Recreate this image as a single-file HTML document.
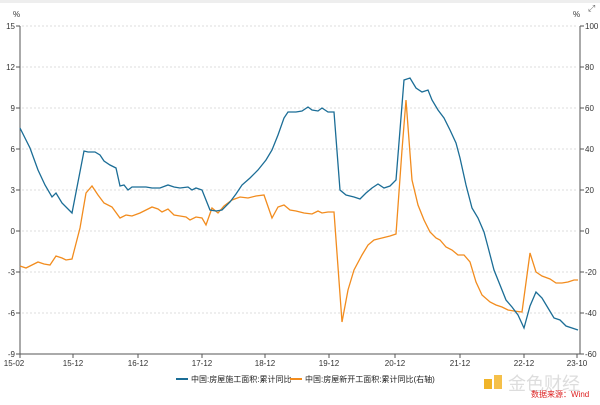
<!DOCTYPE html>
<html><head><meta charset="utf-8"><style>
body{margin:0;background:#fff;font-family:"Liberation Sans","Noto Sans CJK SC",sans-serif}
</style></head><body>
<svg width="600" height="400" xmlns="http://www.w3.org/2000/svg" font-family="Liberation Sans, Noto Sans CJK SC, sans-serif">
<rect width="600" height="400" fill="#fff"/>
<rect width="600" height="3" fill="#eee"/>
<g stroke="#ddd" stroke-dasharray="2,2" stroke-width="1">
<line x1="22" x2="578" y1="26" y2="26"/><line x1="22" x2="578" y1="67" y2="67"/><line x1="22" x2="578" y1="108" y2="108"/><line x1="22" x2="578" y1="149" y2="149"/><line x1="22" x2="578" y1="190" y2="190"/><line x1="22" x2="578" y1="231" y2="231"/><line x1="22" x2="578" y1="272" y2="272"/><line x1="22" x2="578" y1="313" y2="313"/>
</g>
<g stroke="#555" stroke-width="1" fill="none">
<line x1="20" y1="26" x2="20" y2="354"/><line x1="580" y1="26" x2="580" y2="354"/><line x1="20" y1="354" x2="580" y2="354"/>
<path d="M16,26h4M16,67h4M16,108h4M16,149h4M16,190h4M16,231h4M16,272h4M16,313h4M16,354h4M580,26h4M580,67h4M580,108h4M580,149h4M580,190h4M580,231h4M580,272h4M580,313h4M580,354h4M20,354v4M73,354v4M138,354v4M202,354v4M265,354v4M329,354v4M395,354v4M460,354v4M524,354v4M577,354v4"/>
</g>
<g font-size="8" fill="#333">
<text x="13" y="17">%</text><text x="573" y="17">%</text>
<g text-anchor="end"><text x="15" y="29">15</text><text x="15" y="70">12</text><text x="15" y="111">9</text><text x="15" y="152">6</text><text x="15" y="193">3</text><text x="15" y="234">0</text><text x="15" y="275">-3</text><text x="15" y="316">-6</text><text x="15" y="357">-9</text></g>
<g><text x="585" y="29">100</text><text x="585" y="70">80</text><text x="585" y="111">60</text><text x="585" y="152">40</text><text x="585" y="193">20</text><text x="585" y="234">0</text><text x="585" y="275">-20</text><text x="585" y="316">-40</text><text x="585" y="357">-60</text></g>
<g text-anchor="middle"><text x="14" y="366">15-02</text><text x="73" y="366">15-12</text><text x="138" y="366">16-12</text><text x="202" y="366">17-12</text><text x="265" y="366">18-12</text><text x="329" y="366">19-12</text><text x="395" y="366">20-12</text><text x="460" y="366">21-12</text><text x="524" y="366">22-12</text><text x="577" y="366">23-10</text></g>
</g>
<polyline fill="none" stroke="#f28c1e" stroke-width="1.3" points="20,266 26,268 32,265 38,262 44,264 50,265 56,256 62,258 66,260 72,259 80,228 86,193 92,186 98,195 104,203 112,207 120,218 126,215 132,216 140,213 146,210 152,207 158,209 162,212 168,209 174,215 180,216 186,217 190,220 196,217 202,218 206,225 212,208 218,213 224,206 232,200 240,197 248,198 256,196 264,195 272,218 278,207 284,205 290,210 296,211 304,213 312,214 318,211 322,213 328,212 334,212 342,322 348,290 354,270 362,255 368,245 374,240 382,238 390,236 396,234 402,150 406,100 412,180 418,205 424,220 430,232 436,238 440,240 446,247 452,250 458,255 464,255 470,262 476,282 482,295 490,302 496,305 502,307 508,310 514,311 522,312 530,253 536,272 542,276 550,279 556,283 562,283 568,282 574,280 578,280"/>
<polyline fill="none" stroke="#1b6d96" stroke-width="1.3" points="20,128 30,148 38,170 45,185 52,197 56,193 62,203 72,213 84,151 88,152 95,152 100,155 104,161 110,165 116,168 120,186 124,185 128,190 132,187 138,187 146,187 152,188 160,188 168,185 174,187 180,188 188,187 192,190 196,188 202,190 210,210 216,211 222,210 230,202 236,194 242,185 250,178 258,170 266,160 272,150 278,135 284,118 288,112 296,112 302,111 308,107 312,110 318,111 322,108 328,112 334,112 340,190 346,195 354,197 360,199 366,193 372,188 378,184 384,188 390,186 396,180 404,80 410,78 416,88 422,92 428,90 432,100 438,110 444,118 450,130 456,143 460,158 466,185 472,208 478,218 484,232 488,247 494,270 500,285 506,300 512,307 518,315 524,328 530,306 536,292 542,298 548,308 554,318 560,320 566,326 572,328 578,330"/>
<g font-size="8" fill="#222">
<line x1="176" y1="379" x2="188" y2="379" stroke="#1b6d96" stroke-width="2"/><text x="191" y="382">中国:房屋施工面积:累计同比</text>
<line x1="290" y1="379" x2="302" y2="379" stroke="#f28c1e" stroke-width="2"/><text x="305" y="382">中国:房屋新开工面积:累计同比(右轴)</text>
</g>
<rect x="484" y="379" width="8" height="10" fill="#f0b429"/><rect x="494" y="375" width="8" height="14" fill="#f5c04a"/>
<text x="508" y="390" font-size="18" fill="#ddd">金色财经</text>
<text x="531" y="397" font-size="8" fill="#d22">数据来源：Wind</text>
<text x="588" y="11" font-size="9" fill="#666">⤢</text>
</svg>
</body></html>
